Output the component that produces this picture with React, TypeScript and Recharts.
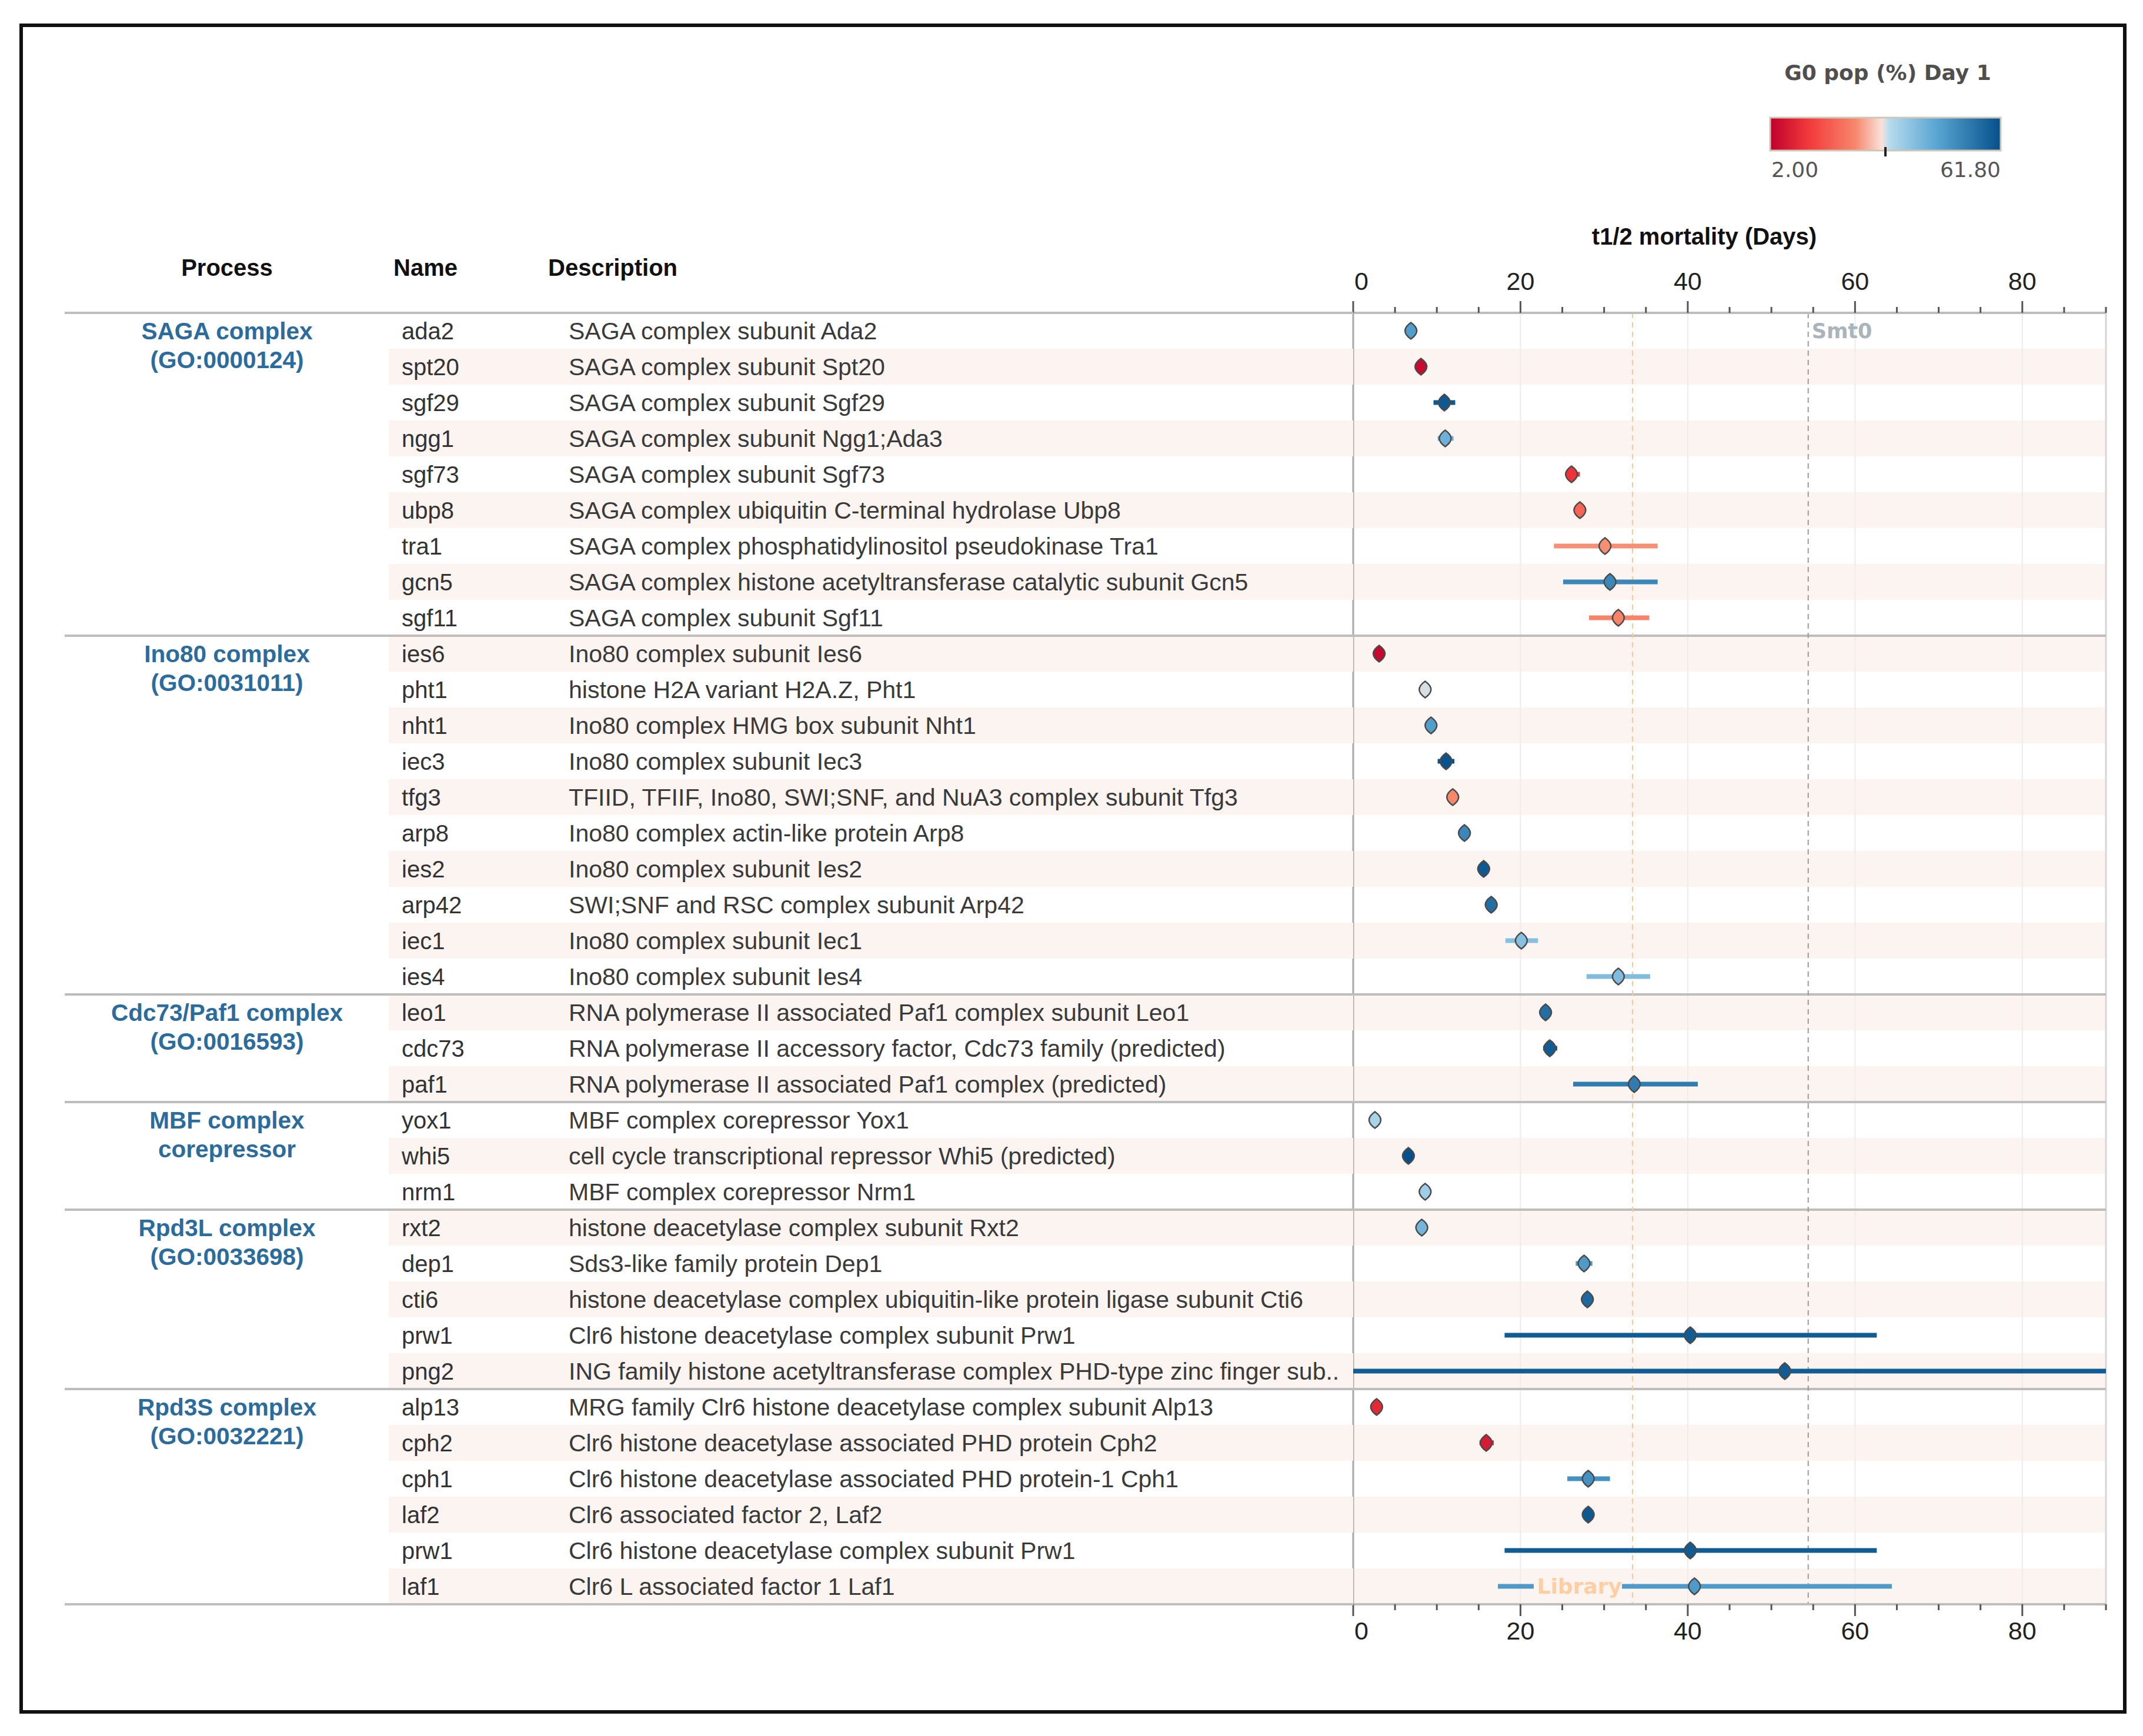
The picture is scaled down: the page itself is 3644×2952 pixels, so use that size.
import React from "react";
import {
  ScatterChart,
  Scatter,
  XAxis,
  YAxis,
  ErrorBar,
  ReferenceLine,
  ReferenceArea,
} from "recharts";

// ---- data ----
const processTitles = [
  "SAGA complex",
  "Ino80 complex",
  "Cdc73/Paf1 complex",
  "MBF complex",
  "Rpd3L complex",
  "Rpd3S complex",
];
const processSubtitles = [
  "(GO:0000124)",
  "(GO:0031011)",
  "(GO:0016593)",
  "corepressor",
  "(GO:0033698)",
  "(GO:0032221)",
];
const processSizes = [9, 10, 3, 3, 5, 6];

const geneNames = [
  "ada2", "spt20", "sgf29", "ngg1", "sgf73", "ubp8", "tra1", "gcn5", "sgf11",
  "ies6", "pht1", "nht1", "iec3", "tfg3", "arp8", "ies2", "arp42", "iec1", "ies4",
  "leo1", "cdc73", "paf1",
  "yox1", "whi5", "nrm1",
  "rxt2", "dep1", "cti6", "prw1", "png2",
  "alp13", "cph2", "cph1", "laf2", "prw1", "laf1",
];

const descriptions = [
  "SAGA complex subunit Ada2",
  "SAGA complex subunit Spt20",
  "SAGA complex subunit Sgf29",
  "SAGA complex subunit Ngg1;Ada3",
  "SAGA complex subunit Sgf73",
  "SAGA complex ubiquitin C-terminal hydrolase Ubp8",
  "SAGA complex phosphatidylinositol pseudokinase Tra1",
  "SAGA complex histone acetyltransferase catalytic subunit Gcn5",
  "SAGA complex subunit Sgf11",
  "Ino80 complex subunit Ies6",
  "histone H2A variant H2A.Z, Pht1",
  "Ino80 complex HMG box subunit Nht1",
  "Ino80 complex subunit Iec3",
  "TFIID, TFIIF, Ino80, SWI;SNF, and NuA3 complex subunit Tfg3",
  "Ino80 complex actin-like protein Arp8",
  "Ino80 complex subunit Ies2",
  "SWI;SNF and RSC complex subunit Arp42",
  "Ino80 complex subunit Iec1",
  "Ino80 complex subunit Ies4",
  "RNA polymerase II associated Paf1 complex subunit Leo1",
  "RNA polymerase II accessory factor, Cdc73 family (predicted)",
  "RNA polymerase II associated Paf1 complex (predicted)",
  "MBF complex corepressor Yox1",
  "cell cycle transcriptional repressor Whi5 (predicted)",
  "MBF complex corepressor Nrm1",
  "histone deacetylase complex subunit Rxt2",
  "Sds3-like family protein Dep1",
  "histone deacetylase complex ubiquitin-like protein ligase subunit Cti6",
  "Clr6 histone deacetylase complex subunit Prw1",
  "ING family histone acetyltransferase complex PHD-type zinc finger sub..",
  "MRG family Clr6 histone deacetylase complex subunit Alp13",
  "Clr6 histone deacetylase associated PHD protein Cph2",
  "Clr6 histone deacetylase associated PHD protein-1 Cph1",
  "Clr6 associated factor 2, Laf2",
  "Clr6 histone deacetylase complex subunit Prw1",
  "Clr6 L associated factor 1 Laf1",
];

// t1/2 mortality (days)
const halfLife = [
  6.9, 8.1, 10.9, 11.0, 26.1, 27.1, 30.1, 30.7, 31.7,
  3.1, 8.6, 9.3, 11.1, 11.9, 13.3, 15.6, 16.5, 20.1, 31.7,
  23.0, 23.5, 33.6,
  2.6, 6.6, 8.6,
  8.2, 27.6, 28.0, 40.3, 51.6,
  2.8, 15.9, 28.1, 28.1, 40.3, 40.8,
];
const ciLow = [
  6.9, 7.4, 9.6, 10.1, 25.4, 27.1, 24.0, 25.1, 28.2,
  3.1, 8.6, 9.3, 10.1, 11.9, 13.3, 15.0, 16.5, 18.2, 27.9,
  23.0, 22.7, 26.3,
  2.6, 6.6, 8.6,
  8.2, 26.6, 28.0, 18.1, 0,
  2.8, 15.1, 25.6, 28.1, 18.1, 17.3,
];
const ciHigh = [
  6.9, 8.8, 12.2, 12.0, 27.1, 27.1, 36.4, 36.4, 35.4,
  3.1, 8.6, 9.3, 12.1, 11.9, 13.3, 16.2, 16.5, 22.1, 35.5,
  23.0, 24.4, 41.2,
  2.6, 6.6, 8.6,
  8.2, 28.6, 28.0, 62.6, 90,
  2.8, 16.8, 30.7, 28.1, 62.6, 64.4,
];
// G0 pop (%) Day 1 (colour)
const g0Pop = [
  46.9, 3.8, 60.0, 42.6, 11.0, 18.7, 24.7, 51.0, 23.5,
  3.2, 31.9, 46.8, 61.2, 24.1, 51.0, 60.0, 55.8, 39.0, 40.0,
  55.8, 59.4, 53.4,
  34.9, 61.8, 36.0,
  41.5, 47.4, 57.0, 59.4, 59.4,
  9.2, 6.8, 49.2, 60.0, 59.4, 47.4,
];

const xTicks = [0, 5, 10, 15, 20, 25, 30, 35, 40, 45, 50, 55, 60, 65, 70, 75, 80, 85, 90];
const smt0Value = 54.4;
const libraryValue = 33.4;
const g0Min = 2.0;
const g0Max = 61.8;
const g0Stops: [number, string][] = [
  [0, "#c0002c"],
  [0.17, "#f23a3c"],
  [0.37, "#f7876b"],
  [0.485, "#f8e2da"],
  [0.515, "#b8dbee"],
  [0.72, "#5aa6d3"],
  [1, "#05508a"],
];

// ---- layout ----
const W = 3644;
const H = 2952;
const PLOT_LEFT = 2301;
const PLOT_RIGHT = 3581;
const PLOT_TOP = 532;
const PLOT_BOTTOM = 2728;
const ROW_H = (PLOT_BOTTOM - PLOT_TOP) / geneNames.length;
const TABLE_X = 110;
const STRIPE_X = 661;
const PROCESS_X = 386;
const NAME_X = 683;
const DESC_X = 967;
const STRIPE = "#fcf4f0";
const RULE = "#bdbdbd";
const FONT = "'Liberation Sans', Arial, Helvetica, sans-serif";
const BLUE = "#2b6c9c";

function hexToRgb(h: string) {
  const n = parseInt(h.slice(1), 16);
  return [(n >> 16) & 255, (n >> 8) & 255, n & 255];
}

function g0Color(v: number) {
  const t = Math.max(0, Math.min(1, (v - g0Min) / (g0Max - g0Min)));
  for (let i = 1; i < g0Stops.length; i++) {
    const [t1, c1] = g0Stops[i];
    const [t0, c0] = g0Stops[i - 1];
    if (t <= t1) {
      const f = (t - t0) / (t1 - t0);
      const a = hexToRgb(c0);
      const b = hexToRgb(c1);
      const m = a.map((x, k) => Math.round(x + (b[k] - x) * f));
      return `rgb(${m[0]},${m[1]},${m[2]})`;
    }
  }
  return g0Stops[g0Stops.length - 1][1];
}

const groupStarts: number[] = [];
processSizes.reduce((acc, n) => {
  groupStarts.push(acc);
  return acc + n;
}, 0);

const rows = geneNames.map((name, i) => ({
  row: i,
  name,
  desc: descriptions[i],
  t: halfLife[i],
  err: [halfLife[i] - ciLow[i], ciHigh[i] - halfLife[i]],
  color: g0Color(g0Pop[i]),
  striped: i % 2 === 1,
  group: groupStarts.indexOf(i),
  last: i === geneNames.length - 1,
}));

const RowTick = (props: any) => {
  const { x, y, payload } = props;
  const r = rows[payload.value];
  if (!r) return null;
  const half = ROW_H / 2;
  return (
    <g>
      {r.striped && (
        <rect x={STRIPE_X} y={y - half} width={x - STRIPE_X} height={ROW_H} fill={STRIPE} />
      )}
      {r.group >= 0 && (
        <line x1={TABLE_X} x2={x} y1={y - half} y2={y - half} stroke={RULE} strokeWidth={4} />
      )}
      {r.last && (
        <line x1={TABLE_X} x2={x} y1={y + half} y2={y + half} stroke={RULE} strokeWidth={4} />
      )}
      {r.group >= 0 && (
        <text
          x={PROCESS_X}
          textAnchor="middle"
          fontFamily={FONT}
          fontWeight="bold"
          fontSize={40.5}
          fill={BLUE}
        >
          <tspan x={PROCESS_X} y={y} dy="0.35em">
            {processTitles[r.group]}
          </tspan>
          <tspan x={PROCESS_X} y={y + 49} dy="0.35em">
            {processSubtitles[r.group]}
          </tspan>
        </text>
      )}
      <text x={NAME_X} y={y} dy="0.35em" fontFamily={FONT} fontSize={40} fill="#333">
        {r.name}
      </text>
      <text x={DESC_X} y={y} dy="0.35em" fontFamily={FONT} fontSize={41} fill="#3a3a3a">
        {r.desc}
      </text>
    </g>
  );
};

const AxisTick = (props: any) => {
  const { x, y, payload, side } = props;
  const v = payload.value;
  const major = v % 20 === 0;
  const dir = side === "top" ? -1 : 1;
  const labelY = side === "top" ? y - 54 : y + 45;
  return (
    <g>
      <line x1={x} x2={x} y1={y} y2={y + dir * (major ? 20 : 10)} stroke="#555" strokeWidth={3} />
      {major && v < 90 && (
        <text
          x={x + (v === 0 ? 14 : 0)}
          y={labelY}
          dy="0.35em"
          textAnchor="middle"
          fontFamily={FONT}
          fontSize={43}
          fill="#222"
        >
          {v}
        </text>
      )}
    </g>
  );
};

const LineTag = (props: any) => {
  const { viewBox, text, color, where } = props;
  if (!viewBox) return null;
  const top = Math.min(viewBox.y, viewBox.y + (viewBox.height || 0));
  const bottom = Math.max(viewBox.y, viewBox.y + (viewBox.height || 0));
  const lx = viewBox.x;
  if (where === "top") {
    return (
      <text
        x={lx + 6}
        y={top + ROW_H / 2}
        dy="0.35em"
        fontFamily="'DejaVu Sans', sans-serif"
        fontWeight="bold"
        fontSize={35}
        fill={color}
      >
        {text}
      </text>
    );
  }
  const cy = bottom - ROW_H / 2;
  return (
    <g>
      <rect x={lx - 168} y={cy - 24} width={150} height={48} fill={STRIPE} />
      <text
        x={lx - 18}
        y={cy}
        dy="0.35em"
        textAnchor="end"
        fontFamily="'DejaVu Sans', sans-serif"
        fontWeight="bold"
        fontSize={36}
        fill={color}
      >
        {text}
      </text>
    </g>
  );
};

const renderMarker = (props: any) => {
  const { cx, cy, payload } = props;
  if (cx == null || cy == null) return <g />;
  return (
    <path
      d={`M${cx},${cy - 14} Q${cx + 20},${cy} ${cx},${cy + 14} Q${cx - 20},${cy} ${cx},${cy - 14} Z`}
      fill={payload.color}
      stroke="#4a4a4a"
      strokeWidth={2.5}
    />
  );
};

export default function App() {
  const barX = 3010;
  const barW = 392;
  return (
    <div
      style={{
        position: "absolute",
        left: 0,
        top: 0,
        width: W,
        height: H,
        background: "#fff",
        overflow: "hidden",
      }}
    >
      <div
        style={{
          position: "absolute",
          left: 33,
          top: 40,
          width: 3583,
          height: 2874,
          border: "6px solid #111",
          boxSizing: "border-box",
        }}
      />
      <div style={{ position: "absolute", left: 0, top: 0 }}>
        <ScatterChart
          width={W}
          height={H}
          margin={{ top: 0, right: W - PLOT_RIGHT, bottom: 0, left: 0 }}
        >
          <XAxis
            xAxisId="top"
            orientation="top"
            type="number"
            dataKey="t"
            domain={[0, 90]}
            allowDataOverflow
            ticks={xTicks}
            interval={0}
            height={PLOT_TOP}
            tickSize={0}
            tickMargin={0}
            tickLine={false}
            axisLine={{ stroke: RULE, strokeWidth: 4 }}
            tick={<AxisTick side="top" />}
          />
          <XAxis
            xAxisId="bottom"
            orientation="bottom"
            type="number"
            dataKey="t"
            domain={[0, 90]}
            allowDataOverflow
            ticks={xTicks}
            interval={0}
            height={H - PLOT_BOTTOM}
            tickSize={0}
            tickMargin={0}
            tickLine={false}
            axisLine={{ stroke: RULE, strokeWidth: 4 }}
            tick={<AxisTick side="bottom" />}
          />
          <YAxis
            type="number"
            dataKey="row"
            domain={[-0.5, rows.length - 0.5]}
            allowDataOverflow
            reversed
            ticks={rows.map((r) => r.row)}
            interval={0}
            width={PLOT_LEFT}
            tickSize={0}
            tickMargin={0}
            tickLine={false}
            axisLine={false}
            tick={<RowTick />}
          />

          {rows
            .filter((r) => r.striped)
            .map((r) => (
              <ReferenceArea
                key={`s${r.row}`}
                xAxisId="top"
                y1={r.row - 0.5}
                y2={r.row + 0.5}
                fill={STRIPE}
                fillOpacity={1}
                stroke="none"
                ifOverflow="visible"
              />
            ))}

          {[20, 40, 60, 80].map((v) => (
            <ReferenceLine key={`g${v}`} xAxisId="top" x={v} stroke="#ececec" strokeWidth={2} />
          ))}
          <ReferenceLine xAxisId="top" x={90} stroke="#d6d6d6" strokeWidth={3} />
          <ReferenceLine xAxisId="top" x={0} stroke="#a8a8a8" strokeWidth={3} />

          {groupStarts.slice(1).map((s) => (
            <ReferenceLine key={`r${s}`} xAxisId="top" y={s - 0.5} stroke={RULE} strokeWidth={4} />
          ))}

          <ReferenceLine
            xAxisId="top"
            x={smt0Value}
            stroke="#9a9a9a"
            strokeWidth={2}
            strokeDasharray="9 7"
            label={<LineTag text="Smt0" color="#a9b4bb" where="top" />}
          />
          <ReferenceLine
            xAxisId="top"
            x={libraryValue}
            stroke="#fcc896"
            strokeWidth={2}
            strokeDasharray="9 7"
          />

          {rows.map((r) => (
            <Scatter
              key={`p${r.row}`}
              xAxisId="top"
              data={[r]}
              fill={r.color}
              shape={renderMarker}
              isAnimationActive={false}
            >
              <ErrorBar
                dataKey="err"
                direction="x"
                width={0}
                stroke={r.color}
                strokeWidth={8}
                isAnimationActive={false}
              />
            </Scatter>
          ))}

          <ReferenceLine
            xAxisId="top"
            x={libraryValue}
            stroke="none"
            label={<LineTag text="Library" color="#fdcfa3" where="bottom" />}
          />
        </ScatterChart>
      </div>

      <svg
        width={W}
        height={H}
        style={{ position: "absolute", left: 0, top: 0, pointerEvents: "none" }}
      >
        <defs>
          <linearGradient id="g0grad" x1="0" x2="1" y1="0" y2="0">
            {g0Stops.map(([t, c]) => (
              <stop key={t} offset={t} stopColor={c} />
            ))}
          </linearGradient>
        </defs>
        <text
          x={3210}
          y={123}
          dy="0.35em"
          textAnchor="middle"
          fontFamily="'DejaVu Sans', sans-serif"
          fontWeight="bold"
          fontSize={36}
          fill="#4f4f4f"
        >
          G0 pop (%) Day 1
        </text>
        <rect x={barX} y={200} width={barW} height={56} fill="url(#g0grad)" stroke="#cfc6ba" strokeWidth={3} />
        <line x1={barX + barW / 2} x2={barX + barW / 2} y1={250} y2={266} stroke="#222" strokeWidth={4} />
        <text x={barX + 2} y={288} dy="0.35em" fontFamily="'DejaVu Sans', sans-serif" fontSize={36} fill="#555">
          {g0Min.toFixed(2)}
        </text>
        <text
          x={barX + barW}
          y={288}
          dy="0.35em"
          textAnchor="end"
          fontFamily="'DejaVu Sans', sans-serif"
          fontSize={36}
          fill="#555"
        >
          {g0Max.toFixed(2)}
        </text>

        <g fontFamily={FONT} fontWeight="bold" fontSize={40} fill="#111">
          <text x={PROCESS_X} y={455} dy="0.35em" textAnchor="middle">
            Process
          </text>
          <text x={669} y={455} dy="0.35em">
            Name
          </text>
          <text x={932} y={455} dy="0.35em">
            Description
          </text>
          <text x={2898} y={402} dy="0.35em" textAnchor="middle">
            t1/2 mortality (Days)
          </text>
        </g>
      </svg>
    </div>
  );
}
